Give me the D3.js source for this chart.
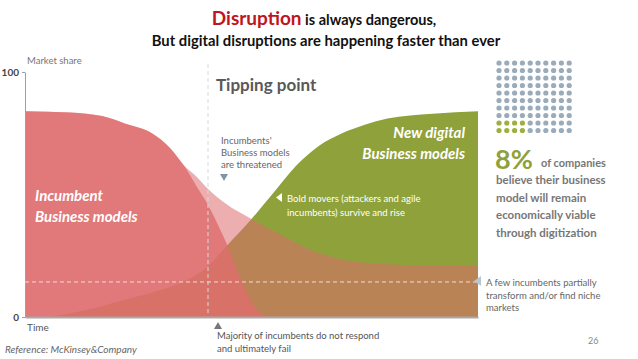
<!DOCTYPE html>
<html>
<head>
<meta charset="utf-8">
<script src="https://cdn.jsdelivr.net/npm/d3@7"></script>
<style>
  html, body { margin: 0; padding: 0; background: #fff; }
  svg { display: block; font-family: Lato, "Open Sans", sans-serif; }
</style>
</head>
<body>
<div id="canvas"></div>
<script>
// market share (%) over time (0-100)
const incumbentsMajority = [
  [0, 84], [10, 83.5], [17, 82], [22, 79], [28, 75], [32, 69], [35, 62], [38, 53],
  [40, 47], [42.5, 38], [44.5, 30], [47.5, 16], [50, 6], [52, 1.5], [54, 0], [100, 0]
];
const incumbentsFew = [
  [0, 84], [10, 83.5], [17, 82], [22, 79], [28, 75], [32, 69], [35, 62], [38, 57],
  [40, 53], [44.5, 46], [50, 40], [55, 35], [60, 30], [65, 26], [70, 23.5], [80, 21.5],
  [90, 21], [100, 21]
];
const digital = [
  [5.5, 0], [10, 1.5], [15, 3.5], [20, 6], [24, 8], [30, 11], [35, 14.5], [40, 20],
  [44.5, 29], [50, 40], [55, 51], [60, 62], [65, 70], [70, 75], [75, 78.5], [80, 81],
  [90, 83], [100, 84]
];
const yTicks = [0, 100];
const tippingPoint = 40.4;
const nicheLevel = 14.3;
const viablePct = 8;

const width = 638;
const height = 359;

const svg = d3.select("#canvas")
    .append("svg")
    .attr("width", width)
    .attr("height", height);

const x = d3.scaleLinear().domain([0, 100]).range([25, 478]);
const y = d3.scaleLinear().domain([0, 100]).range([317, 72]);

const area = d3.area()
    .x(d => x(d[0]))
    .y0(y(0))
    .y1(d => y(d[1]))
    .curve(d3.curveMonotoneX);

const red = "#de6c6d";
const green = "#8fa13a";

// title
const t1 = svg.append("text")
    .attr("x", 324).attr("y", 25)
    .attr("text-anchor", "middle")
    .attr("font-weight", "bold");
t1.append("tspan").attr("fill", "#bf1520").attr("font-size", 19).text("Disruption");
t1.append("tspan").attr("fill", "#111").attr("font-size", 14.5).text(" is always dangerous,");

svg.append("text")
    .attr("x", 326).attr("y", 46)
    .attr("text-anchor", "middle")
    .attr("font-weight", "bold")
    .attr("font-size", 14.8)
    .attr("fill", "#111")
    .text("But digital disruptions are happening faster than ever");

// areas
svg.append("path").datum(digital).attr("d", area).attr("fill", green);
svg.append("path").datum(incumbentsFew).attr("d", area).attr("fill", red).attr("opacity", 0.55);
svg.append("path").datum(incumbentsMajority).attr("d", area).attr("fill", red).attr("opacity", 0.82);

// axes
svg.append("g")
    .attr("transform", `translate(0,${y(0)})`)
    .call(d3.axisBottom(x).tickValues([]).tickSizeOuter(0))
    .call(g => g.select(".domain").attr("stroke", "#a9a9a9").attr("stroke-width", 2));

const yAxis = svg.append("g")
    .attr("transform", `translate(${x(0)},0)`)
    .call(d3.axisLeft(y).tickValues(yTicks).tickSize(3).tickSizeOuter(0).tickFormat(d3.format("d")));
yAxis.select(".domain").attr("stroke", "#8fa3b6");
yAxis.selectAll(".tick line").attr("stroke", "#8fa3b6");
yAxis.selectAll(".tick text")
    .attr("font-family", "Lato, sans-serif")
    .attr("font-size", 10)
    .attr("font-weight", "bold")
    .attr("fill", "#444");

// dashed guides
svg.append("line")
    .attr("x1", x(tippingPoint)).attr("x2", x(tippingPoint))
    .attr("y1", 64).attr("y2", y(0) - 1)
    .attr("stroke", "#d8d8d8").attr("stroke-dasharray", "4,3");
svg.append("line")
    .attr("x1", x(0)).attr("x2", x(100))
    .attr("y1", y(nicheLevel)).attr("y2", y(nicheLevel))
    .attr("stroke", "#f1dcdc").attr("stroke-dasharray", "4,3");

// labels
svg.append("text").attr("x", 27).attr("y", 64).attr("font-size", 9.5).attr("fill", "#777").text("Market share");
svg.append("text").attr("x", 27).attr("y", 331).attr("font-size", 10).attr("fill", "#555").text("Time");
svg.append("text").attr("x", 5).attr("y", 353).attr("font-size", 10).attr("font-style", "italic")
    .attr("fill", "#666").text("Reference: McKinsey&Company");
svg.append("text").attr("x", 588).attr("y", 344).attr("font-size", 9).attr("fill", "#888").text("26");

svg.append("text").attr("x", 216).attr("y", 91).attr("font-size", 17).attr("font-weight", "bold")
    .attr("fill", "#595959").text("Tipping point");

function lines(xp, yp, arr, step, attrs) {
  const t = svg.append("text").attr("x", xp).attr("y", yp);
  Object.entries(attrs).forEach(([k, v]) => t.attr(k, v));
  arr.forEach((s, i) => t.append("tspan").attr("x", xp).attr("dy", i ? step : 0).text(s));
  return t;
}

lines(221, 144, ["Incumbents'", "Business models", "are threatened"], 12,
    { "font-size": 9.5, fill: "#666" });
svg.append("path").attr("d", "M220,174 L228,174 L224,181 Z").attr("fill", "#7f95a8");

lines(287, 202, ["Bold movers (attackers and agile", "incumbents) survive and rise"], 13.5,
    { "font-size": 9.5, fill: "#fff" });
svg.append("path").attr("d", "M282,193 L282,202 L276,197.5 Z").attr("fill", "#fff");

lines(465, 138, ["New digital", "Business models"], 21,
    { "font-size": 15, fill: "#fff", "font-weight": "bold", "font-style": "italic", "text-anchor": "end" });
lines(35, 201, ["Incumbent", "Business models"], 21,
    { "font-size": 15, fill: "#fff", "font-weight": "bold", "font-style": "italic" });

svg.append("path").attr("d", "M481,276 L481,286 L474,281 Z").attr("fill", "#b7c6d3");
lines(486, 286, ["A few incumbents partially", "transform and/or find niche", "markets"], 12.5,
    { "font-size": 9.5, fill: "#666" });

svg.append("path").attr("d", "M214,329 L222,329 L218,322 Z").attr("fill", "#777");
lines(217, 339, ["Majority of incumbents do not respond", "and ultimately fail"], 12.5,
    { "font-size": 9.5, fill: "#555" });

// 10x10 dot grid, 8 green
const cells = d3.range(100).map(i => ({ row: Math.floor(i / 10), col: i % 10 }));
svg.append("g").selectAll("circle").data(cells).join("circle")
    .attr("cx", d => 499 + d.col * 7.8)
    .attr("cy", d => 63 + d.row * 7.5)
    .attr("r", 2.6)
    .attr("fill", d => (d.row >= 8 && d.col * 2 + (d.row - 8) < viablePct) ? "#9daf3c" : "#9aabba");

svg.append("text").attr("x", 495).attr("y", 169).attr("font-size", 27).attr("font-weight", "bold")
    .attr("fill", green).text(viablePct + "%");
svg.append("text").attr("x", 541).attr("y", 167).attr("font-size", 11).attr("font-weight", "bold")
    .attr("fill", "#777").text("of companies");
lines(496, 184, ["believe their business", "model will remain", "economically viable", "through digitization"], 17.5,
    { "font-size": 11.5, fill: "#777", "font-weight": "bold" });
</script>
</body>
</html>
